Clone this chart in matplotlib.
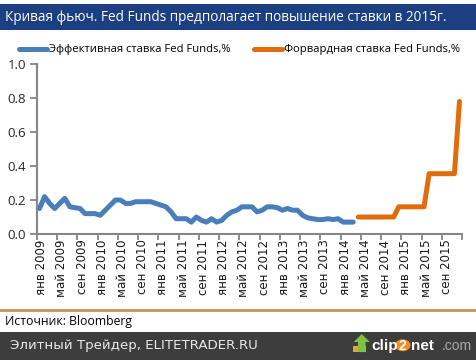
import numpy as np
import matplotlib
matplotlib.use('Agg')
from matplotlib import pyplot as plt
from matplotlib.patches import Rectangle, Circle, Polygon
from matplotlib.lines import Line2D

# данные (месяцы от янв 2009 = 0)
effective_rate = [0.15, 0.22, 0.18, 0.15, 0.18, 0.21, 0.16, 0.155, 0.15, 0.12,
                  0.12, 0.12, 0.11, 0.14, 0.17, 0.20, 0.20, 0.18, 0.18, 0.19,
                  0.19, 0.19, 0.19, 0.18, 0.17, 0.16, 0.13, 0.09, 0.09, 0.09,
                  0.07, 0.10, 0.08, 0.07, 0.09, 0.07, 0.08, 0.11, 0.13, 0.14,
                  0.16, 0.16, 0.16, 0.13, 0.14, 0.16, 0.16, 0.155, 0.14, 0.15,
                  0.14, 0.14, 0.11, 0.095, 0.09, 0.085, 0.085, 0.09, 0.085, 0.09,
                  0.07, 0.07, 0.07]
forward_rate = [0.10, 0.10, 0.10, 0.10, 0.10, 0.10, 0.10, 0.10,
                0.16, 0.16, 0.16, 0.16, 0.16, 0.16,
                0.355, 0.355, 0.355, 0.355, 0.355, 0.355,
                0.78]
month_names = ['янв', 'май', 'сен']
years = [2009, 2010, 2011, 2012, 2013, 2014, 2015]
y_ticks = [0.0, 0.2, 0.4, 0.6, 0.8, 1.0]

n_months = 84
eff_x = np.arange(len(effective_rate))
fwd_x = np.arange(len(forward_rate)) + len(effective_rate)

tick_labels = ['%s %d' % (m, y) for y in years for m in month_names]
label_pos = np.arange(len(tick_labels)) * 4

BLUE = '#4A7EBB'
ORANGE = '#E36C0A'
GRAY = '#868686'
FONT = ['Open Sans', 'DejaVu Sans']

fig = plt.figure(figsize=(4.76, 3.6), dpi=100)
ax = fig.add_axes([0.0777, 0.35, 0.8929, 0.472])

ax.plot(eff_x, effective_rate, color=BLUE, lw=3.6, solid_capstyle='round',
        solid_joinstyle='round', label='Эффективная ставка Fed Funds,%')
ax.plot(fwd_x, forward_rate, color=ORANGE, lw=3.6, solid_capstyle='round',
        solid_joinstyle='round', label='Форвардная ставка Fed Funds,%')

ax.set_xlim(-0.5, n_months - 0.5)
ax.set_ylim(0, 1.0)

ax.set_yticks(y_ticks)
ax.set_yticklabels(['%.1f' % v for v in y_ticks], family=FONT, fontsize=9.5,
                   color='#262626')
ax.set_xticks(np.arange(0, n_months + 1, 4) - 0.5)
ax.set_xticklabels([])
ax.set_xticks(label_pos + 0.4, minor=True)
ax.set_xticklabels(tick_labels, minor=True, rotation=90, fontsize=8.5,
                   family='DejaVu Sans', color='#1A1A1A')
ax.tick_params(axis='x', which='minor', length=0, pad=4)
ax.tick_params(axis='x', which='major', length=4, width=1.3, color=GRAY)
ax.tick_params(axis='y', length=5, width=1.3, color=GRAY, pad=3)

for side in ['top', 'right']:
    ax.spines[side].set_visible(False)
for side in ['left', 'bottom']:
    ax.spines[side].set_color(GRAY)
    ax.spines[side].set_linewidth(1.5)

ax.legend(loc='lower left', bbox_to_anchor=(0.04, 0.846), bbox_transform=fig.transFigure,
          ncol=2, frameon=False, handlelength=2.5, handletextpad=0.15,
          columnspacing=2.1, prop={'family': FONT, 'size': 8.1},
          borderaxespad=0, borderpad=0)

# шапка
fig.patches.append(Rectangle((0, 0.917), 1, 0.072, transform=fig.transFigure,
                             facecolor='#1C3F82', edgecolor='none', zorder=0))
fig.text(0.011, 0.952, 'Кривая фьюч. Fed Funds предполагает повышение ставки в 2015г.',
         color='white', fontsize=9.8, family=FONT, va='center', ha='left')

# подвал
fig.add_artist(Line2D([0, 1], [0.139, 0.139], transform=fig.transFigure,
                      color='#C8915A', lw=2))
fig.text(0.01, 0.108, 'Источник: Bloomberg', fontsize=8.8, family=FONT,
         va='center', ha='left', color='black')
fig.patches.append(Rectangle((0, 0), 1, 0.078, transform=fig.transFigure,
                             facecolor='#3D3D3D', edgecolor='none', zorder=0))
fig.text(0.022, 0.039, 'Элитный Трейдер, ELITETRADER.RU', color='#E8E8E8',
         fontsize=9.6, family='DejaVu Sans', va='center', ha='left')

# логотип clip2net
fig.patches.append(Polygon([(0.741, 0.022), (0.768, 0.022), (0.768, 0.040),
                            (0.741, 0.040)], closed=True, transform=fig.transFigure,
                           facecolor='#E9A23B', edgecolor='none'))
fig.patches.append(Polygon([(0.752, 0.022), (0.768, 0.022), (0.768, 0.050),
                            (0.777, 0.050), (0.760, 0.072), (0.743, 0.050),
                            (0.752, 0.050)], closed=True, transform=fig.transFigure,
                           facecolor='#7DC242', edgecolor='none'))
fig.text(0.780, 0.039, 'clip', color='white', fontsize=11, weight='bold',
         family='Liberation Sans', va='center', ha='left')
fig.patches.append(Circle((0.846, 0.041), 0.0165, transform=fig.transFigure,
                          facecolor='#F28C1E', edgecolor='none'))
fig.text(0.846, 0.039, '2', color='white', fontsize=10, weight='bold',
         family='Liberation Sans', va='center', ha='center')
fig.text(0.864, 0.039, 'net', color='white', fontsize=11, weight='bold',
         family='Liberation Sans', va='center', ha='left')
fig.text(0.929, 0.039, '.com', color='#A8A8A8', fontsize=10,
         family='Liberation Sans', va='center', ha='left')

fig.savefig('out.png', dpi=100)
